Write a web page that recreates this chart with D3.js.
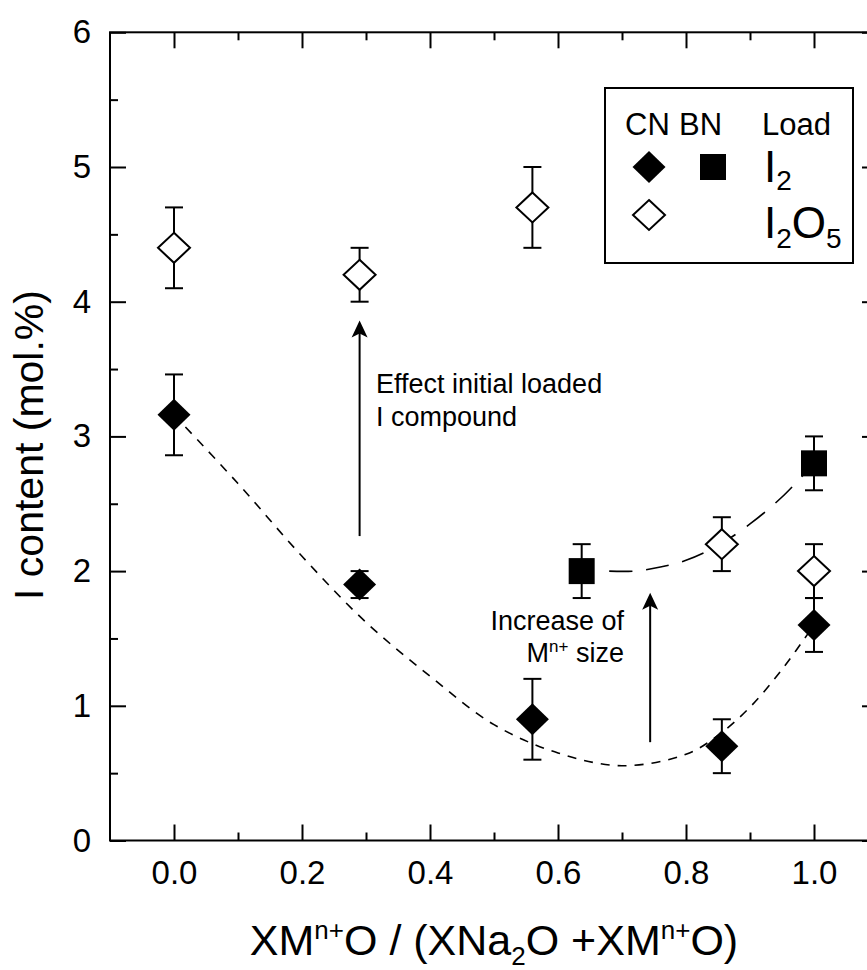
<!DOCTYPE html>
<html><head><meta charset="utf-8">
<script src="https://cdn.jsdelivr.net/npm/d3@7"></script>
<style>
html,body{margin:0;padding:0;background:#fff;}
svg{display:block;font-family:"Liberation Sans",Arial,sans-serif;}
</style></head>
<body>
<svg id="c" width="867" height="970"></svg>
<script>
// ---- data ----
const cnI2 = [ // CN glasses, I2 loaded (filled diamonds)
  {x:0.00, y:3.16, e:0.30},
  {x:0.29, y:1.90, e:0.10},
  {x:0.56, y:0.90, e:0.30},
  {x:0.856, y:0.70, e:0.20},
  {x:1.00, y:1.60, e:0.20}
];
const cnI2O5 = [ // CN glasses, I2O5 loaded (open diamonds)
  {x:0.00, y:4.40, e:0.30},
  {x:0.29, y:4.20, e:0.20},
  {x:0.56, y:4.70, e:0.30},
  {x:0.856, y:2.20, e:0.20},
  {x:1.00, y:2.00, e:0.20}
];
const bnI2 = [ // BN glasses, I2 loaded (filled squares)
  {x:0.637, y:2.00, e:0.20},
  {x:1.00, y:2.80, e:0.20}
];
const fitCN = [[0.0,3.16],[0.1,2.65],[0.2,2.11],[0.3,1.62],[0.4,1.22],[0.5,0.86],[0.6,0.65],[0.7,0.555],[0.8,0.64],[0.85,0.78],[0.9,0.99],[0.95,1.27],[1.0,1.6]];
const fitBN = [[0.68,2.0],[0.72,2.0],[0.76,2.03],[0.8,2.08],[0.85,2.19],[0.9,2.35],[0.95,2.55],[1.0,2.8]];
const arrows = [{x:0.29, y0:2.26, y1:3.86},{x:0.744, y0:0.73, y1:1.84}];
const xMajor = [0,0.2,0.4,0.6,0.8,1.0];
const xMinor = [0.1,0.3,0.5,0.7,0.9];
const yMajor = [0,1,2,3,4,5,6];
const yMinor = [0.5,1.5,2.5,3.5,4.5,5.5];

// ---- layout ----
const svg = d3.select("#c");
const L=110, R=878, T=32.3, B=840.5;
const x = d3.scaleLinear().domain([-0.1,1.1]).range([L,R]);
const y = d3.scaleLinear().domain([0,6]).range([B,T]);
const FONT = "Liberation Sans, Arial, sans-serif";

const g = svg.append("g");
function styleAxis(sel){
  sel.select(".domain").remove();
  sel.selectAll(".tick line").attr("stroke","#000").attr("stroke-width",2);
}
// bottom
g.append("g").attr("transform",`translate(0,${B})`)
  .call(d3.axisBottom(x).tickValues(xMajor).tickSizeInner(-16).tickSizeOuter(0).tickPadding(12).tickFormat(d3.format(".1f")))
  .call(styleAxis)
  .call(s=>s.selectAll("text").attr("font-size",33).attr("fill","#000").attr("font-family",FONT).attr("dy","0.95em"));
g.append("g").attr("transform",`translate(0,${B})`)
  .call(d3.axisBottom(x).tickValues(xMinor).tickSizeInner(-8).tickSizeOuter(0).tickFormat(""))
  .call(styleAxis);
// top
g.append("g").attr("transform",`translate(0,${T})`)
  .call(d3.axisTop(x).tickValues(xMajor).tickSizeInner(-16).tickSizeOuter(0).tickFormat(""))
  .call(styleAxis);
g.append("g").attr("transform",`translate(0,${T})`)
  .call(d3.axisTop(x).tickValues(xMinor).tickSizeInner(-8).tickSizeOuter(0).tickFormat(""))
  .call(styleAxis);
// left
g.append("g").attr("transform",`translate(${L},0)`)
  .call(d3.axisLeft(y).tickValues(yMajor).tickSizeInner(-16).tickSizeOuter(0).tickPadding(19).tickFormat(d3.format("d")))
  .call(styleAxis)
  .call(s=>s.selectAll("text").attr("font-size",33).attr("fill","#000").attr("font-family",FONT));
g.append("g").attr("transform",`translate(${L},0)`)
  .call(d3.axisLeft(y).tickValues(yMinor).tickSizeInner(-8).tickSizeOuter(0).tickFormat(""))
  .call(styleAxis);
// right
g.append("g").attr("transform",`translate(${R},0)`)
  .call(d3.axisRight(y).tickValues(yMajor).tickSizeInner(-16).tickSizeOuter(0).tickFormat(""))
  .call(styleAxis);
g.append("g").attr("transform",`translate(${R},0)`)
  .call(d3.axisRight(y).tickValues(yMinor).tickSizeInner(-8).tickSizeOuter(0).tickFormat(""))
  .call(styleAxis);
// frame
g.append("rect").attr("x",L).attr("y",T).attr("width",R-L).attr("height",B-T)
  .attr("fill","none").attr("stroke","#000").attr("stroke-width",2);

// axis titles
const xt = svg.append("text").attr("x",(L+R)/2).attr("y",955).attr("text-anchor","middle").attr("font-size",43);
xt.append("tspan").text("XM");
xt.append("tspan").attr("font-size",26).attr("dy",-16).text("n+");
xt.append("tspan").attr("dy",16).text("O / (XNa");
xt.append("tspan").attr("font-size",26).attr("dy",10).text("2");
xt.append("tspan").attr("dy",-10).text("O +XM");
xt.append("tspan").attr("font-size",26).attr("dy",-16).text("n+");
xt.append("tspan").attr("dy",16).text("O)");

svg.append("text").attr("transform",`translate(43,445) rotate(-90)`)
  .attr("text-anchor","middle").attr("font-size",41).text("I content (mol.%)");

// fit curves
const line = d3.line().x(d=>x(d[0])).y(d=>y(d[1])).curve(d3.curveCatmullRom);
g.append("path").attr("d",line(fitCN)).attr("fill","none").attr("stroke","#000")
  .attr("stroke-width",1.6).attr("stroke-dasharray","9,8");
g.append("path").attr("d",line(fitBN)).attr("fill","none").attr("stroke","#000")
  .attr("stroke-width",1.6).attr("stroke-dasharray","23,14");

// arrows
arrows.forEach(a=>{
  const xs=x(a.x), ys=y(a.y0), ye=y(a.y1);
  g.append("line").attr("x1",xs).attr("x2",xs).attr("y1",ys).attr("y2",ye+12).attr("stroke","#000").attr("stroke-width",2);
  g.append("path").attr("d",`M${xs},${ye} L${xs-8},${ye+17} L${xs},${ye+13} L${xs+8},${ye+17} Z`).attr("fill","#000");
});

// annotations
svg.append("text").attr("x",376).attr("y",393).attr("font-size",27).text("Effect initial loaded");
svg.append("text").attr("x",376).attr("y",426).attr("font-size",27).text("I compound");
svg.append("text").attr("x",624).attr("y",630).attr("text-anchor","end").attr("font-size",27).text("Increase of");
const mt = svg.append("text").attr("x",624).attr("y",662).attr("text-anchor","end").attr("font-size",27);
mt.append("tspan").text("M");
mt.append("tspan").attr("font-size",17).attr("dy",-10).text("n+");
mt.append("tspan").attr("dy",10).text(" size");

// error bars
function errBars(data){
  data.forEach(d=>{
    const cx=x(d.x);
    g.append("line").attr("x1",cx).attr("x2",cx).attr("y1",y(d.y-d.e)).attr("y2",y(d.y+d.e)).attr("stroke","#000").attr("stroke-width",2);
    [d.y-d.e,d.y+d.e].forEach(v=>g.append("line").attr("x1",cx-9).attr("x2",cx+9).attr("y1",y(v)).attr("y2",y(v)).attr("stroke","#000").attr("stroke-width",2));
  });
}
errBars(cnI2); errBars(cnI2O5); errBars(bnI2);

function diamond(cx,cy,w,h){return `M${cx},${cy-h} L${cx+w},${cy} L${cx},${cy+h} L${cx-w},${cy} Z`;}
g.selectAll(".fd").data(cnI2).join("path").attr("d",d=>diamond(x(d.x),y(d.y),16.5,16)).attr("fill","#000");
g.selectAll(".od").data(cnI2O5).join("path").attr("d",d=>diamond(x(d.x),y(d.y),16,15)).attr("fill","#fff").attr("stroke","#000").attr("stroke-width",2);
g.selectAll(".sq").data(bnI2).join("rect").attr("x",d=>x(d.x)-13).attr("y",d=>y(d.y)-13).attr("width",26).attr("height",26).attr("fill","#000");

// legend
const lg = svg.append("g");
lg.append("rect").attr("x",605).attr("y",88).attr("width",248).attr("height",175).attr("fill","#fff").attr("stroke","#000").attr("stroke-width",2);
[["CN",625],["BN",679],["Load",762]].forEach(t=>lg.append("text").attr("x",t[1]).attr("y",135).attr("font-size",31).text(t[0]));
lg.append("path").attr("d",diamond(649,167,16.5,16)).attr("fill","#000");
lg.append("rect").attr("x",700).attr("y",154).attr("width",26).attr("height",26).attr("fill","#000");
lg.append("path").attr("d",diamond(649,215,16,15)).attr("fill","#fff").attr("stroke","#000").attr("stroke-width",2);
const l1 = lg.append("text").attr("x",764).attr("y",182).attr("font-size",44);
l1.append("tspan").text("I");
l1.append("tspan").attr("font-size",28).attr("dy",8).text("2");
const l2 = lg.append("text").attr("x",764).attr("y",238).attr("font-size",44);
l2.append("tspan").text("I");
l2.append("tspan").attr("font-size",28).attr("dy",10).text("2");
l2.append("tspan").attr("dy",-10).text("O");
l2.append("tspan").attr("font-size",28).attr("dy",10).text("5");
</script>
</body></html>
